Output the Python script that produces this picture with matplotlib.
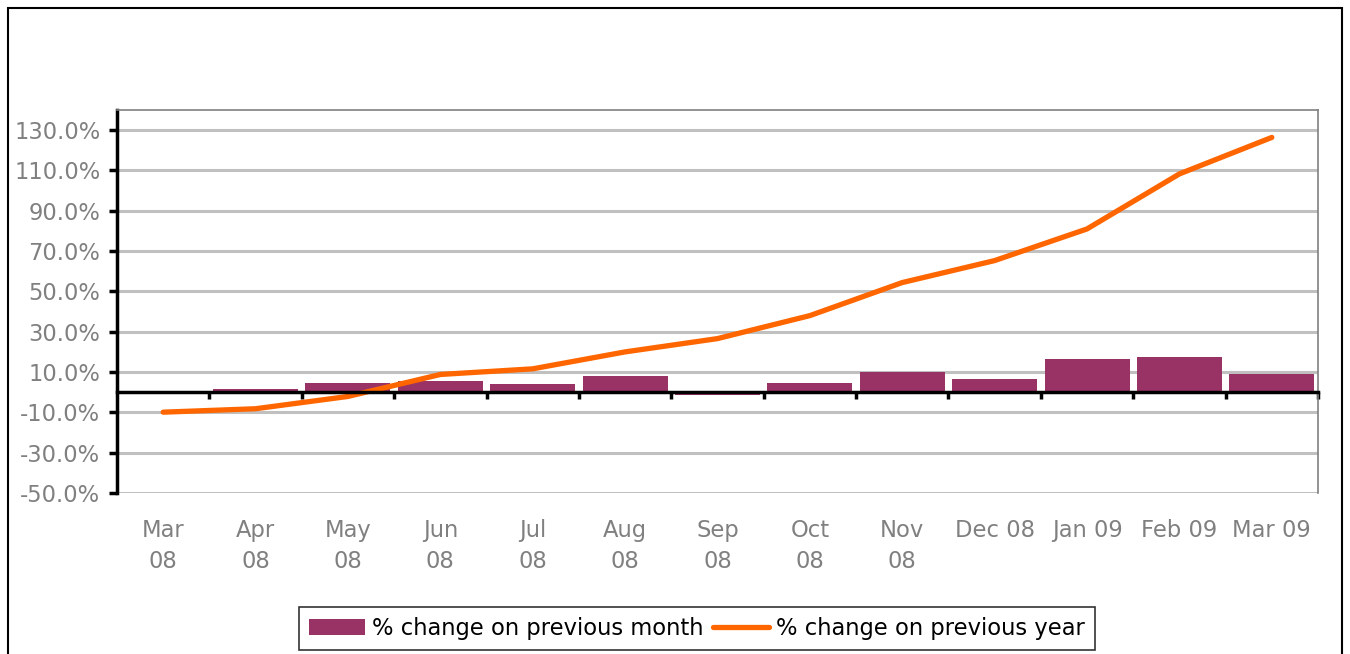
import matplotlib.pyplot as plt
import matplotlib.transforms as mtransforms
from matplotlib.patches import Rectangle
import numpy as np

plt.rcParams['font.family'] = ['DejaVu Sans']

months = ["Mar\n08", "Apr\n08", "May\n08", "Jun\n08", "Jul\n08", "Aug\n08", "Sep\n08",
          "Oct\n08", "Nov\n08", "Dec 08", "Jan 09", "Feb 09", "Mar 09"]
monthly_change = [0.0, 1.7, 4.8, 5.8, 4.0, 7.8, -1.3, 4.8, 9.8, 6.8, 16.7, 17.7, 8.8]
yearly_change = [-9.9, -8.2, -2.1, 8.8, 11.6, 20.0, 26.6, 38.0, 54.4, 65.3, 81.0, 108.3, 126.4]

bar_color = "#993366"
line_color = "#FF6600"
label_gray = "#808080"
fs = 16.3

fig = plt.figure(figsize=(13.5, 6.54), dpi=100)
ax = fig.add_axes([117/1350, 1 - 493/654, (1318 - 117)/1350, (493 - 110)/654])

x = np.arange(len(months))

# grid first so bars and line sit on top
ax.set_yticks(np.arange(-50, 131, 20))
ax.yaxis.grid(True, color="#C0C0C0", linewidth=2.2, zorder=0)
ax.set_axisbelow(True)

bars = ax.bar(x, monthly_change, width=0.92, color=bar_color, zorder=2,
              label="% change on previous month")
line, = ax.plot(x, yearly_change, color=line_color, linewidth=3.8,
                solid_capstyle="round", solid_joinstyle="round", zorder=3,
                label="% change on previous year")

ax.set_xlim(-0.5, len(months) - 0.5)
ax.set_ylim(-50, 140)

# axis styling
ax.spines["bottom"].set_position(("data", 0))
ax.spines["bottom"].set_linewidth(2.5)
ax.spines["bottom"].set_zorder(4)
ax.spines["left"].set_linewidth(2.5)
for side in ["top", "right"]:
    ax.spines[side].set_color("#808080")
    ax.spines[side].set_linewidth(1.2)

ax.set_xticks(np.arange(0.5, len(months), 1.0))
ax.tick_params(axis="x", direction="out", length=5, width=2.5, labelbottom=False)
ax.tick_params(axis="y", direction="out", length=6, width=2.5, pad=6,
               labelsize=fs, labelcolor=label_gray)
ax.set_yticklabels(["{:.1f}%".format(v) for v in ax.get_yticks()])

# category labels below the plot area
trans = mtransforms.blended_transform_factory(ax.transData, ax.transAxes)
for i, m in enumerate(months):
    ax.annotate(m, xy=(i, 0), xycoords=trans, xytext=(0, -18.5), textcoords="offset points",
                ha="center", va="top", fontsize=fs, color=label_gray, linespacing=1.45)

leg = fig.legend(handles=[bars, line], loc="center", bbox_to_anchor=(697/1350, 1 - 628.5/654),
                 ncol=2, fontsize=fs, frameon=True, fancybox=False, handlelength=2.5,
                 handleheight=0.75, handletextpad=0.3, columnspacing=0.4, borderpad=0.45,
                 borderaxespad=0)
leg.get_frame().set_edgecolor("black")
leg.get_frame().set_linewidth(1.2)

# outer chart border
fig.patches.append(Rectangle((8/1350, -0.02), (1342 - 8)/1350, 1 - 8/654 + 0.02,
                             transform=fig.transFigure, fill=False, edgecolor="black",
                             linewidth=1.5))

fig.savefig("out.png", dpi=100)
